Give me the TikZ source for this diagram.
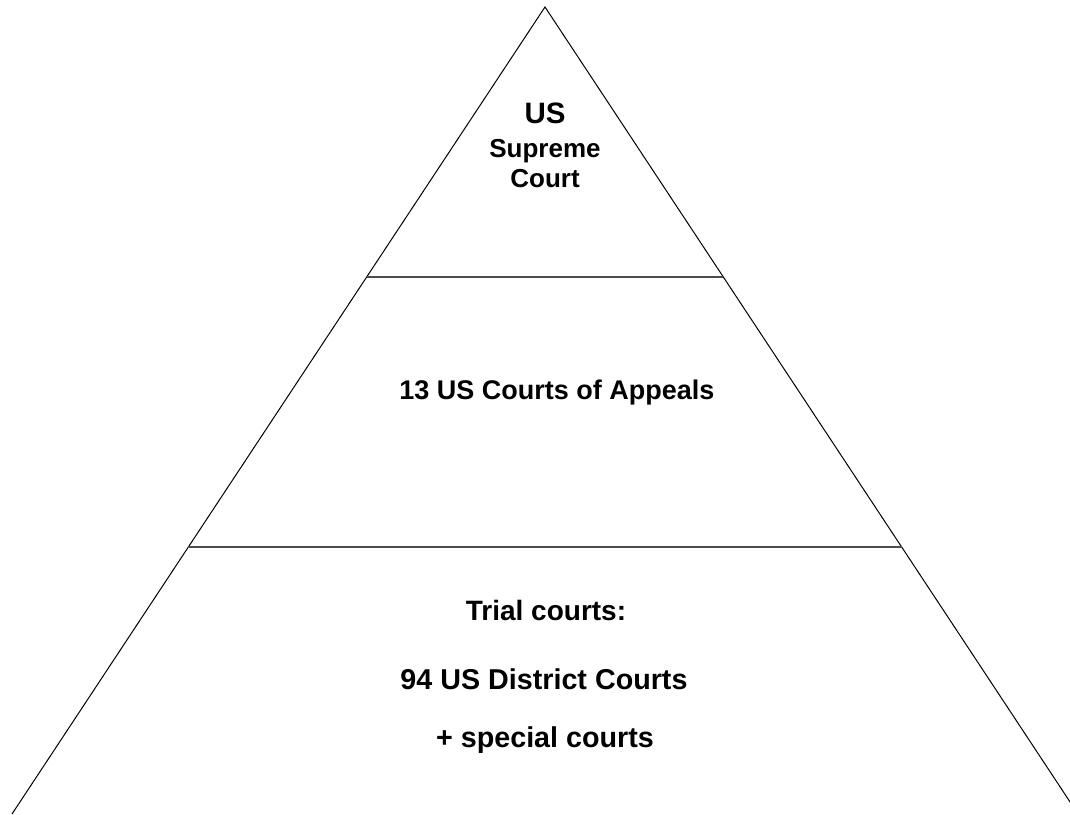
\documentclass[tikz,border=0pt]{standalone}
\usepackage{fontspec}
\setmainfont{Liberation Sans}
\begin{document}
\begin{tikzpicture}[x=1pt,y=-1pt,
  edge/.style={line width=1pt,black},
  tier/.style={line width=2.4pt,black!70},
  lbl/.style={anchor=base,inner sep=0pt,font=\bfseries}]
\useasboundingbox (0,0) rectangle (1070,814);
\clip (0,0) rectangle (1070,814);
\coordinate (apex) at (545,7);
\coordinate (bl) at (12,814);
\coordinate (br) at (1078,814);
\draw[edge] (bl) -- (apex) -- (br);
\path (apex) -- (bl) coordinate[pos=0.3346] (t1l) coordinate[pos=0.6691] (t2l);
\path (apex) -- (br) coordinate[pos=0.3346] (t1r) coordinate[pos=0.6691] (t2r);
\draw[tier] (t1l) -- (t1r);
\draw[tier] (t2l) -- (t2r);
\node[lbl,font=\bfseries\fontsize{29.5}{30}\selectfont] (us) at (545,123) {US};
\node[lbl,font=\bfseries\fontsize{26}{28}\selectfont] (sup) at (545,157) {Supreme};
\node[lbl,font=\bfseries\fontsize{26}{28}\selectfont] (court) at (545,187) {Court};
\node[lbl,font=\bfseries\fontsize{27}{29}\selectfont] (app) at (557,399) {13 US Courts of Appeals};
\node[lbl,font=\bfseries\fontsize{28}{30}\selectfont] (trial) at (546,620) {Trial courts:};
\node[lbl,font=\bfseries\fontsize{28.7}{30}\selectfont] (dist) at (544,689) {94 US District Courts};
\node[lbl,font=\bfseries\fontsize{28.7}{30}\selectfont] (spec) at (545,747) {+ special courts};
\end{tikzpicture}
\end{document}
